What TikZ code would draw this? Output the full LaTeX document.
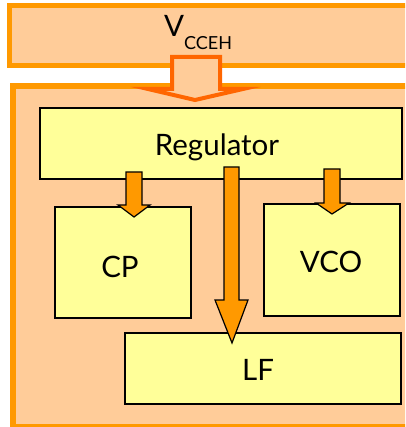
\documentclass[tikz,border=0pt]{standalone}
\usepackage{fontspec}
\setmainfont{Lato}
\definecolor{peach}{HTML}{FFCC99}
\definecolor{orng}{HTML}{FF9900}
\definecolor{redorng}{HTML}{FF6600}
\definecolor{lyellow}{HTML}{FFFF99}
\begin{document}
\begin{tikzpicture}[x=1pt,y=-1pt,
  blockbox/.style={draw=black,line width=1.6pt,fill=lyellow,inner sep=0pt},
  blocktext/.style={anchor=base,inner sep=0pt,font=\fontsize{29.5}{31}\selectfont},
  blockarrow/.style={draw=black,line width=1.2pt,fill=orng,line join=miter},
]
\useasboundingbox (0,0) rectangle (405,427);
\fill[white] (0,0) rectangle (405,427);
\clip (0,0) rectangle (405,427);
% top supply bar
\draw[orng,line width=5pt,fill=peach] (9.5,5.5) rectangle (420,66);
% main box
\draw[orng,line width=6pt,fill=peach] (13,86) rectangle (420,427);
% blocks
\node[blockbox,minimum width=362pt,minimum height=71pt] (reg) at (221,143.5) {};
\node[blockbox,minimum width=136pt,minimum height=111pt] (cp) at (123,262.5) {};
\node[blockbox,minimum width=136pt,minimum height=112pt] (vco) at (332,260) {};
\node[blockbox,minimum width=276pt,minimum height=71pt] (lf) at (263,368.5) {};
% texts
\node[blocktext] (tReg) at (217,156) {Regulator};
\node[blocktext] (tCP) at (120,277) {CP};
\node[blocktext] (tVCO) at (331,272) {VCO};
\node[blocktext] (tLF) at (258,380) {LF};
\node[anchor=base west,inner sep=0pt,font=\fontsize{29.5}{31}\selectfont] (tV) at (164,37) {V\raisebox{-13pt}{\fontsize{18}{19}\selectfont CCEH}};
% supply arrow (hollow)
\draw[redorng,line width=4pt,fill=peach,line join=miter]
  (172,57) -- (220,57) -- (220,89) -- (243,89) -- (195,100) -- (148,89) -- (172,89) -- cycle;
% block arrows
\draw[blockarrow] (126,172) -- (142,172) -- (142,205) -- (150,205) -- (134,217) -- (118,205) -- (126,205) -- cycle;
\draw[blockarrow] (324,169) -- (340,169) -- (340,203) -- (349,203) -- (332,214) -- (316,203) -- (324,203) -- cycle;
\draw[blockarrow] (224,167) -- (239,167) -- (239,300) -- (248,300) -- (232,343) -- (215,300) -- (224,300) -- cycle;
\end{tikzpicture}
\end{document}
